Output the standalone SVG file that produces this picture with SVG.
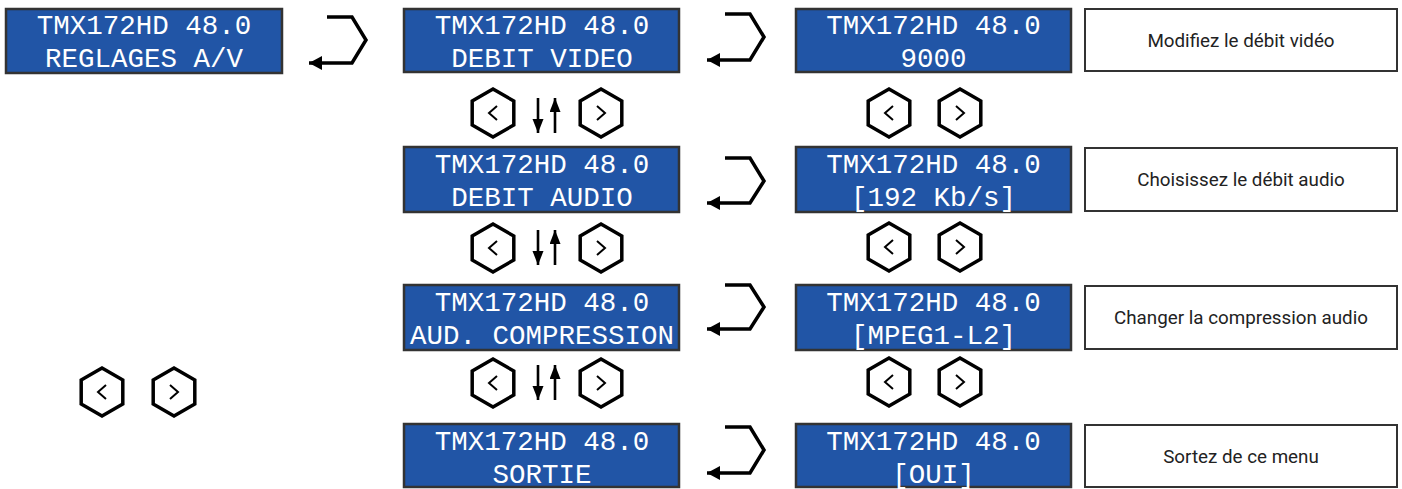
<svg xmlns="http://www.w3.org/2000/svg" width="1402" height="489" viewBox="0 0 1402 489">
<style>
.lcd{fill:#2155a6;stroke:#333;stroke-width:2.5}
.lt{fill:#fff;font-family:"Liberation Mono","DejaVu Sans Mono",monospace;font-size:27.5px;text-anchor:middle}
.wb{fill:#fff;stroke:#333;stroke-width:2}
.wt{fill:#222;font-family:Roboto,"Liberation Sans",sans-serif;font-size:18.8px;text-anchor:middle}
.ln{fill:none;stroke:#000;stroke-width:3.5;stroke-linejoin:miter}
.hx{fill:none;stroke:#000;stroke-width:3.5}
.ch{fill:none;stroke:#000;stroke-width:2}
</style>
<defs>
<marker id="ah" markerUnits="userSpaceOnUse" markerWidth="16" markerHeight="16" refX="13" refY="7" orient="auto">
<path d="M0,0 L13,7 L0,14 Z" fill="#000"/>
</marker>
<marker id="ah2" markerUnits="userSpaceOnUse" markerWidth="16" markerHeight="12" refX="14" refY="5.5" orient="auto">
<path d="M0,0 L14,5.5 L0,11 Z" fill="#000"/>
</marker>
<g id="hexL"><path class="hx" d="M0,-24 L20.8,-12 L20.8,12 L0,24 L-20.8,12 L-20.8,-12 Z"/><path class="ch" d="M4,-7 L-4,0 L4,7"/></g>
<g id="hexR"><path class="hx" d="M0,-24 L20.8,-12 L20.8,12 L0,24 L-20.8,12 L-20.8,-12 Z"/><path class="ch" d="M-4,-7 L4,0 L-4,7"/></g>
</defs>
<rect width="1402" height="489" fill="#fff"/>

<g id="lcd-reglages"><rect class="lcd" x="6" y="9" width="276" height="64"/><text class="lt" x="144" y="34">TMX172HD 48.0</text><text class="lt" x="144" y="67">REGLAGES A/V</text></g>

<g id="lcd-debit-video"><rect class="lcd" x="404" y="9" width="275" height="63"/><text class="lt" x="542" y="34">TMX172HD 48.0</text><text class="lt" x="542" y="67">DEBIT VIDEO</text></g>
<g id="lcd-debit-audio"><rect class="lcd" x="404" y="147" width="275" height="65"/><text class="lt" x="542" y="173">TMX172HD 48.0</text><text class="lt" x="542" y="206">DEBIT AUDIO</text></g>
<g id="lcd-compression"><rect class="lcd" x="404" y="285" width="275" height="65"/><text class="lt" x="542" y="311">TMX172HD 48.0</text><text class="lt" x="542" y="344">AUD. COMPRESSION</text></g>
<g id="lcd-sortie"><rect class="lcd" x="404" y="424" width="275" height="63"/><text class="lt" x="542" y="450">TMX172HD 48.0</text><text class="lt" x="542" y="483">SORTIE</text></g>

<g id="lcd-9000"><rect class="lcd" x="796" y="9" width="275" height="63"/><text class="lt" x="933.5" y="34">TMX172HD 48.0</text><text class="lt" x="933.5" y="67">9000</text></g>
<g id="lcd-192"><rect class="lcd" x="796" y="147" width="275" height="65"/><text class="lt" x="933.5" y="173">TMX172HD 48.0</text><text class="lt" x="933.5" y="206">[192 Kb/s]</text></g>
<g id="lcd-mpeg"><rect class="lcd" x="796" y="285" width="275" height="65"/><text class="lt" x="933.5" y="311">TMX172HD 48.0</text><text class="lt" x="933.5" y="344">[MPEG1-L2]</text></g>
<g id="lcd-oui"><rect class="lcd" x="796" y="424" width="275" height="63"/><text class="lt" x="933.5" y="450">TMX172HD 48.0</text><text class="lt" x="933.5" y="483">[OUI]</text></g>

<g id="note-video"><rect class="wb" x="1085" y="9" width="312" height="62"/><text class="wt" x="1241" y="47">Modifiez le débit vidéo</text></g>
<g id="note-audio"><rect class="wb" x="1085" y="148" width="312" height="63"/><text class="wt" x="1241" y="186">Choisissez le débit audio</text></g>
<g id="note-compression"><rect class="wb" x="1085" y="286" width="312" height="63"/><text class="wt" x="1241" y="324">Changer la compression audio</text></g>
<g id="note-sortie"><rect class="wb" x="1085" y="425" width="312" height="62"/><text class="wt" x="1241" y="463">Sortez de ce menu</text></g>

<g id="buttons">
<use href="#hexL" x="493" y="113"/><use href="#hexR" x="601" y="113"/>
<use href="#hexL" x="493" y="248"/><use href="#hexR" x="601" y="248"/>
<use href="#hexL" x="493" y="383"/><use href="#hexR" x="601" y="383"/>
<use href="#hexL" x="889" y="113"/><use href="#hexR" x="960" y="113"/>
<use href="#hexL" x="889" y="247"/><use href="#hexR" x="960" y="247"/>
<use href="#hexL" x="889" y="382"/><use href="#hexR" x="960" y="382"/>
<use href="#hexL" x="102" y="392"/><use href="#hexR" x="174" y="392"/>
</g>

<g id="connectors">
<path class="ln" marker-end="url(#ah)" d="M327,17 H352 L366,40 L352,63 H309"/>
<path class="ln" marker-end="url(#ah)" d="M725,14 H750 L764,37 L750,60 H707"/>
<path class="ln" marker-end="url(#ah)" d="M725,158 H750 L764,181 L750,203 H707"/>
<path class="ln" marker-end="url(#ah)" d="M725,285 H750 L764,307 L750,329 H707"/>
<path class="ln" marker-end="url(#ah)" d="M725,427 H750 L764,450 L750,473 H707"/>
<g stroke="#000" stroke-width="2.6" fill="none">
<path marker-end="url(#ah2)" d="M538,98 V133"/><path marker-end="url(#ah2)" d="M555,133 V98"/>
<path marker-end="url(#ah2)" d="M538,230 V265"/><path marker-end="url(#ah2)" d="M555,265 V230"/>
<path marker-end="url(#ah2)" d="M538,365 V400"/><path marker-end="url(#ah2)" d="M555,400 V365"/>
</g>
</g>
</svg>
